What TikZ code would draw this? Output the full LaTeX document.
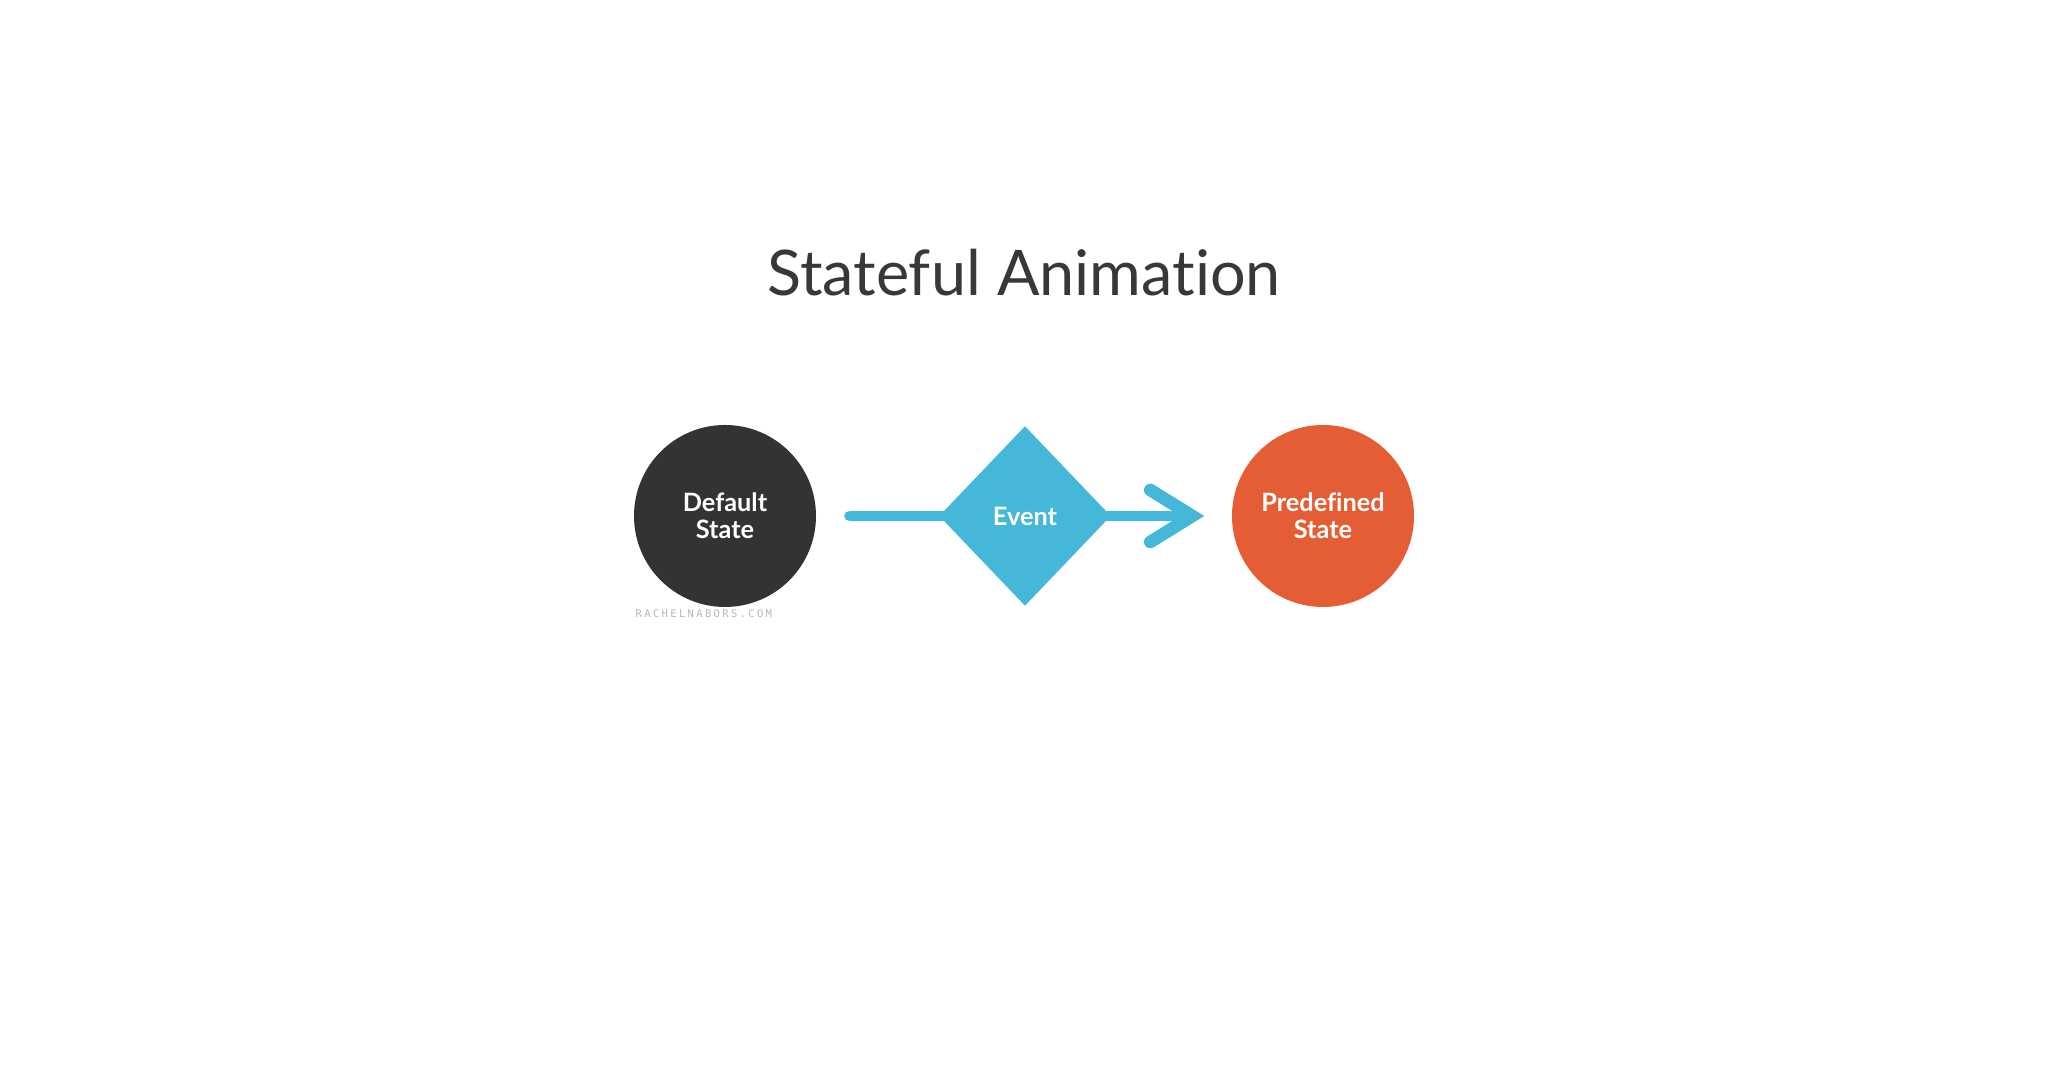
\documentclass[tikz,border=0pt]{standalone}
\usepackage{fontspec}
\setmainfont{Lato}[Ligatures=NoCommon]
\newfontfamily\markfont[LetterSpace=22]{DejaVu Sans Mono}
\usepackage{tikz}
\usetikzlibrary{arrows.meta}
\usetikzlibrary{shapes.geometric, positioning}
\usepackage{xcolor}
\definecolor{darkstate}{HTML}{333333}
\definecolor{eventblue}{HTML}{45B8DA}
\definecolor{predorange}{HTML}{E55D34}
\definecolor{titlegray}{HTML}{383838}

\begin{document}
\begin{tikzpicture}[
      statenode/.style={circle, inner sep=0pt, minimum size=1.82cm, text=white, align=center,
        font=\fontsize{7.2}{7.8}\selectfont\bfseries},
      eventnode/.style={diamond, fill=eventblue, inner sep=0pt, minimum width=1.72cm, minimum height=1.8cm,
        text=white, font=\fontsize{7.2}{7.8}\selectfont\bfseries}
    ]
      \useasboundingbox[fill=white] (0, 0) rectangle (20.48, 10.92);
      
      \node[text=titlegray, font=\fontsize{17.9}{20}\selectfont] (title) at (10.24, 8.19) {Stateful Animation};
      
      \node[statenode, fill=darkstate] (default) at (7.25, 5.76) {Default\\State};
      \node[statenode, fill=predorange] (predefined) at (13.23, 5.76) {Predefined\\State};
      
      \draw[eventblue, line width=3.1pt, line cap=round, shorten <=0.33cm, shorten >=0.27cm,
        -{Straight Barb[length=0.42cm, width=0.52cm, line cap=round, line width=3.6pt]}] (default) -- (predefined);
      \node[eventnode] (event) at (10.25, 5.76) {Event};
      
      \node[text=black!28, font=\markfont\fontsize{3}{3}\selectfont, anchor=north west, inner sep=0pt] (mark) at (6.35, 4.83) {RACHELNABORS.COM};
    \end{tikzpicture}
\end{document}
